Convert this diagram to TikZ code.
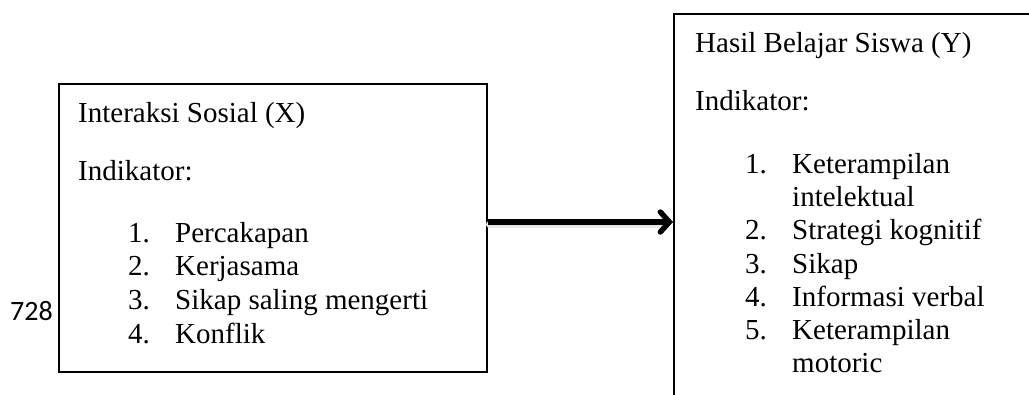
\documentclass[tikz,border=0pt]{standalone}
\usepackage{fontspec}
\setmainfont{Liberation Serif}
\newfontfamily\pagenumfont{Carlito}
\usetikzlibrary{arrows.meta}

\def \boxXLeft{58}
\def \boxXTop{83}
\def \boxXSizeX{428}
\def \boxXSizeY{288}
\def \boxYLeft{673}
\def \boxYTop{13}
\def \textXLeft{78}
\def \numXLeft{128}
\def \itemXLeft{175}
\def \textYLeft{695}
\def \numYLeft{745}
\def \itemYLeft{792}
\def \arrowY{222}

\begin{document}
\begin{tikzpicture}[x=1pt, y=-1pt,
    varbox/.style={draw, line width=1.5pt, inner sep=0pt, anchor=north west},
    txt/.style={anchor=base west, inner sep=0pt, font=\fontsize{29}{33}\selectfont},
    flux/.style={line width=5.4pt, -{Straight Barb[length=9pt, width=20pt, line cap=round]}},
    fluxshadow/.style={line width=7pt, black!9, line cap=round}]
\useasboundingbox (0,0) rectangle (1029,394);

% ---- Box X
\node[varbox, minimum width=\boxXSizeX pt, minimum height=\boxXSizeY pt] (boxX) at (\boxXLeft, \boxXTop) {};
% ---- Box Y (runs past the page edge)
\node[varbox, minimum width=500pt, minimum height=500pt] (boxY) at (\boxYLeft, \boxYTop) {};

% ---- Text of box X
\node[txt] (titleX) at (\textXLeft, 122) {Interaksi Sosial (X)};
\node[txt] (indX) at (\textXLeft, 180) {Indikator:};
\node[txt] (numXA) at (\numXLeft, 242) {1.};
\node[txt] (itemXA) at (\itemXLeft, 242) {Percakapan};
\node[txt] (numXB) at (\numXLeft, 275) {2.};
\node[txt] (itemXB) at (\itemXLeft, 275) {Kerjasama};
\node[txt] (numXC) at (\numXLeft, 309) {3.};
\node[txt] (itemXC) at (\itemXLeft, 309) {Sikap saling mengerti};
\node[txt] (numXD) at (\numXLeft, 343) {4.};
\node[txt] (itemXD) at (\itemXLeft, 343) {Konflik};

% ---- Text of box Y
\node[txt] (titleY) at (\textYLeft, 52) {Hasil Belajar Siswa (Y)};
\node[txt] (indY) at (\textYLeft, 110) {Indikator:};
\node[txt] (numYA) at (\numYLeft, 173) {1.};
\node[txt] (itemYA) at (\itemYLeft, 173) {Keterampilan};
\node[txt] (itemYAb) at (\itemYLeft, 206) {intelektual};
\node[txt] (numYB) at (\numYLeft, 239) {2.};
\node[txt] (itemYB) at (\itemYLeft, 239) {Strategi kognitif};
\node[txt] (numYC) at (\numYLeft, 273) {3.};
\node[txt] (itemYC) at (\itemYLeft, 273) {Sikap};
\node[txt] (numYD) at (\numYLeft, 306) {4.};
\node[txt] (itemYD) at (\itemYLeft, 306) {Informasi verbal};
\node[txt] (numYE) at (\numYLeft, 339) {5.};
\node[txt] (itemYE) at (\itemYLeft, 339) {Keterampilan};
\node[txt] (itemYEb) at (\itemYLeft, 372) {motoric};

% ---- Page number
\node[anchor=base west, inner sep=0pt, font=\pagenumfont\fontsize{28}{32}\selectfont] (pageNum) at (10, 320) {728};

% Flux
\coordinate (fluxLevel) at (0, \arrowY);
\draw[fluxshadow] ([shift={(2,2)}]boxX.east |- fluxLevel) -- ([shift={(-8,2)}]boxY.west |- fluxLevel);
\draw[flux] (boxX.east |- fluxLevel) -- (boxY.west |- fluxLevel);
\end{tikzpicture}
\end{document}
